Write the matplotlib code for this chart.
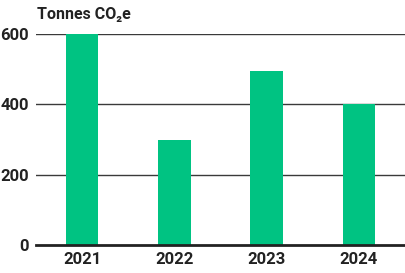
import matplotlib
matplotlib.use("Agg")
import matplotlib.pyplot as plt

years = ["2021", "2022", "2023", "2024"]
values = [600, 300, 495, 400]
yticks = [0, 200, 400, 600]

plt.rcParams['font.family'] = ['Roboto', 'DejaVu Sans']

fig = plt.figure(figsize=(4.05, 2.73), dpi=100)
ax = fig.add_axes([36/405, 1-245/273, 369/405, (245-34)/273])
x = list(range(len(years)))
ax.bar(x, values, width=0.35, color="#00c382", zorder=2)
ax.set_xlim(-0.5, 3.5)
ax.set_ylim(0, 600)
ax.set_yticks(yticks)
ax.set_yticklabels([str(t) for t in yticks], fontsize=12, fontweight='bold', color='#222222')
ax.set_xticks(x)
ax.set_xticklabels(years, fontsize=12, fontweight='bold', color='#222222')
ax.tick_params(axis='y', length=0, pad=5)
ax.tick_params(axis='x', length=0, pad=5)
for s in ax.spines.values():
    s.set_visible(False)
for t in yticks[1:]:
    ax.axhline(t, color='#3a3a3a', lw=1.0, zorder=1)
ax.axhline(0, color='#222222', lw=2.0, zorder=3, clip_on=False)
fig.text(37/405, 1-15/273, "Tonnes CO\u2082e", fontsize=11.5, fontweight='bold', color='#222222', va='center', ha='left')
fig.savefig("out.png", dpi=100)
